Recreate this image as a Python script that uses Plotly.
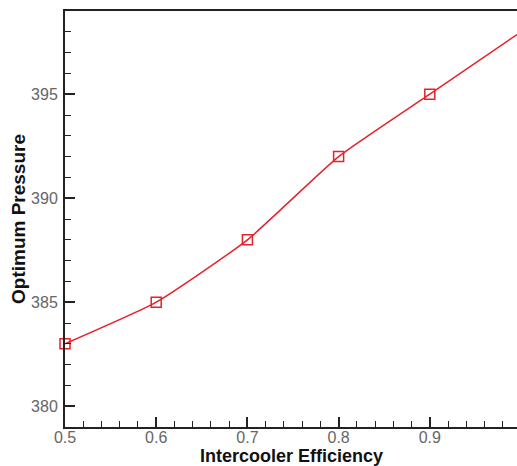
import plotly.graph_objects as go

efficiency = [0.5, 0.6, 0.7, 0.8, 0.9, 1.0]
pressure = [383, 385, 388, 392, 395, 398]
x_ticks = [0.5, 0.6, 0.7, 0.8, 0.9]
y_ticks = [380, 385, 390, 395]

fig = go.Figure()
fig.add_trace(go.Scatter(
    x=efficiency, y=pressure, mode="lines+markers", cliponaxis=False,
    line=dict(color="#e5212b", width=1.5, shape="spline", smoothing=0.5),
    marker=dict(symbol="square-open", size=10, color="#e5212b", line=dict(width=1.5)),
))
tickfont = dict(family="Liberation Sans, Arial", size=16, color="#666666")
titlefont = dict(family="Liberation Sans, Arial", size=19, color="#111")
xtitlefont = dict(family="Liberation Sans, Arial", size=18, color="#111")
fig.update_layout(
    width=517, height=466,
    margin=dict(l=65, r=0, t=11, b=39),
    paper_bgcolor="white", plot_bgcolor="white",
    showlegend=False,
    xaxis=dict(
        range=[0.5, 0.9956], tickvals=x_ticks, ticktext=[f"{v:.1f}" for v in x_ticks],
        ticks="inside", ticklen=10, tickwidth=1.5, tickcolor="#222",
        minor=dict(dtick=0.02, ticks="inside", ticklen=6, tickwidth=1, tickcolor="#222"),
        showline=True, linewidth=2, linecolor="#222", mirror=True,
        showgrid=False, zeroline=False, tickfont=tickfont, ticklabelstandoff=-5,
    ),
    yaxis=dict(
        range=[379, 399], tickvals=y_ticks,
        ticks="inside", ticklen=10, tickwidth=1.5, tickcolor="#222",
        minor=dict(dtick=1, ticks="inside", ticklen=6, tickwidth=1, tickcolor="#222"),
        showline=True, linewidth=2, linecolor="#222",
        showgrid=False, zeroline=False, tickfont=tickfont, ticklabelstandoff=2,
        title=dict(text="<b>Optimum Pressure</b>", standoff=0, font=titlefont),
    ),
    annotations=[dict(
        text="<b>Intercooler Efficiency</b>", xref="paper", yref="paper",
        x=0.5, y=-29 / 416, xanchor="center", yanchor="middle",
        showarrow=False, font=xtitlefont,
    )],
)
fig.write_html("out.html")
